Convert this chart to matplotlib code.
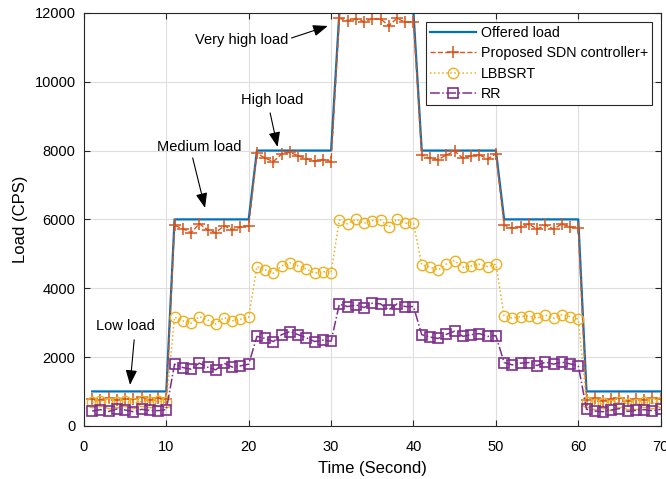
import matplotlib
matplotlib.use("Agg")
import matplotlib.pyplot as plt
import numpy as np

plt.rcParams['font.family'] = ['Liberation Sans', 'DejaVu Sans']

# time axis, one point per second
time = list(range(1, 71))

# offered load per 10 s phase
offered = [1000] * 10 + [6000] * 10 + [8000] * 10 + [12000] * 10 + [8000] * 10 + [6000] * 10 + [1000] * 10

proposed = [780, 760, 820, 740, 790, 770, 830, 760, 800, 780,
            5826, 5730, 5613, 5874, 5700, 5613, 5817, 5700, 5777, 5817,
            7920, 7780, 7680, 7900, 7950, 7850, 7760, 7690, 7740, 7680,
            11845, 11777, 11826, 11748, 11826, 11826, 11632, 11845, 11729, 11748,
            7874, 7777, 7738, 7874, 7980, 7777, 7855, 7874, 7758, 7903,
            5835, 5738, 5787, 5864, 5719, 5835, 5719, 5864, 5787, 5738,
            750, 800, 730, 780, 820, 720, 790, 760, 810, 780]

lbbsrt = [680, 720, 650, 700, 730, 660, 710, 690, 720, 680,
          3158, 3050, 2983, 3175, 3080, 2963, 3147, 3050, 3100, 3158,
          4628, 4532, 4436, 4648, 4744, 4648, 4561, 4436, 4483, 4454,
          5985, 5868, 6005, 5888, 5965, 5985, 5771, 6005, 5888, 5888,
          4677, 4610, 4532, 4706, 4803, 4610, 4648, 4697, 4628, 4697,
          3196, 3128, 3176, 3196, 3128, 3225, 3128, 3225, 3176, 3099,
          680, 620, 650, 600, 690, 640, 620, 680, 650, 690]

rr = [430, 470, 420, 490, 460, 410, 480, 450, 440, 470,
      1793, 1694, 1647, 1822, 1705, 1627, 1822, 1705, 1743, 1793,
      2600, 2540, 2450, 2650, 2740, 2650, 2560, 2450, 2490, 2460,
      3535, 3466, 3515, 3437, 3564, 3544, 3370, 3544, 3466, 3466,
      2650, 2580, 2540, 2660, 2750, 2600, 2650, 2680, 2600, 2620,
      1839, 1772, 1822, 1839, 1752, 1851, 1793, 1851, 1801, 1752,
      480, 430, 410, 460, 500, 420, 450, 470, 440, 480]

# annotation labels: text, text position, arrow tail, arrow head
notes = [("Low load", (5.1, 2905), (6.1, 2500), (5.6, 1190)),
         ("Medium load", (14.0, 8106), (13.2, 7786), (14.7, 6333)),
         ("High load", (22.8, 9471), (22.6, 9094), (23.5, 8106)),
         ("Very high load", (19.2, 11214), (25.2, 11272), (29.6, 11621))]

blue = "#0072BD"
orange = "#D95319"
yellow = "#EDB120"
purple = "#7E2F8E"

fig = plt.figure(figsize=(6.66, 4.79), dpi=100)
ax = fig.add_axes([0.126, 0.111, 0.866, 0.862])

ax.plot(time, offered, "-", color=blue, lw=1.6, label="Offered load")
ax.plot(time, proposed, "--", color=orange, lw=1.0, marker="+", ms=8, mew=1.1,
        label="Proposed SDN controller+")
ax.plot(time, lbbsrt, ":", color=yellow, lw=1.1, marker="o", ms=7.5, mfc="none", mew=1.0,
        label="LBBSRT")
ax.plot(time, rr, "-.", color=purple, lw=1.1, marker="s", ms=6.5, mfc="none", mew=1.2,
        label="RR")

for txt, tpos, tail, head in notes:
    ax.text(tpos[0], tpos[1], txt, fontsize=10.5, ha="center", va="center")
    ax.annotate("", xy=head, xytext=tail,
                arrowprops=dict(arrowstyle="-|>,head_length=0.9,head_width=0.35",
                                color="black", lw=0.8, shrinkA=0, shrinkB=0))

ax.set_xlim(0, 70)
ax.set_ylim(0, 12000)
ax.set_xticks(np.arange(0, 71, 10))
ax.set_yticks(np.arange(0, 12001, 2000))
ax.tick_params(direction="in", top=True, right=True, labelsize=10.5, colors="0.15",
               length=4)
ax.tick_params(axis="x", pad=10)
ax.tick_params(axis="y", pad=6)
for lab in ax.get_xticklabels() + ax.get_yticklabels():
    lab.set_color("black")
for s in ax.spines.values():
    s.set_color("0.15")
    s.set_linewidth(0.8)
ax.grid(True, color="#dedede", lw=0.8)
ax.set_axisbelow(True)

ax.set_xlabel("Time (Second)", fontsize=12, labelpad=5)
ax.set_ylabel("Load (CPS)", fontsize=12, labelpad=5)

leg = ax.legend(loc="upper right", fontsize=10.3, handlelength=3.2, fancybox=False,
                edgecolor="0.15", framealpha=1, borderaxespad=0.6, labelspacing=0.45,
                handletextpad=0.3, borderpad=0.3)
leg.get_frame().set_linewidth(0.8)

fig.savefig("out.png", dpi=100)
